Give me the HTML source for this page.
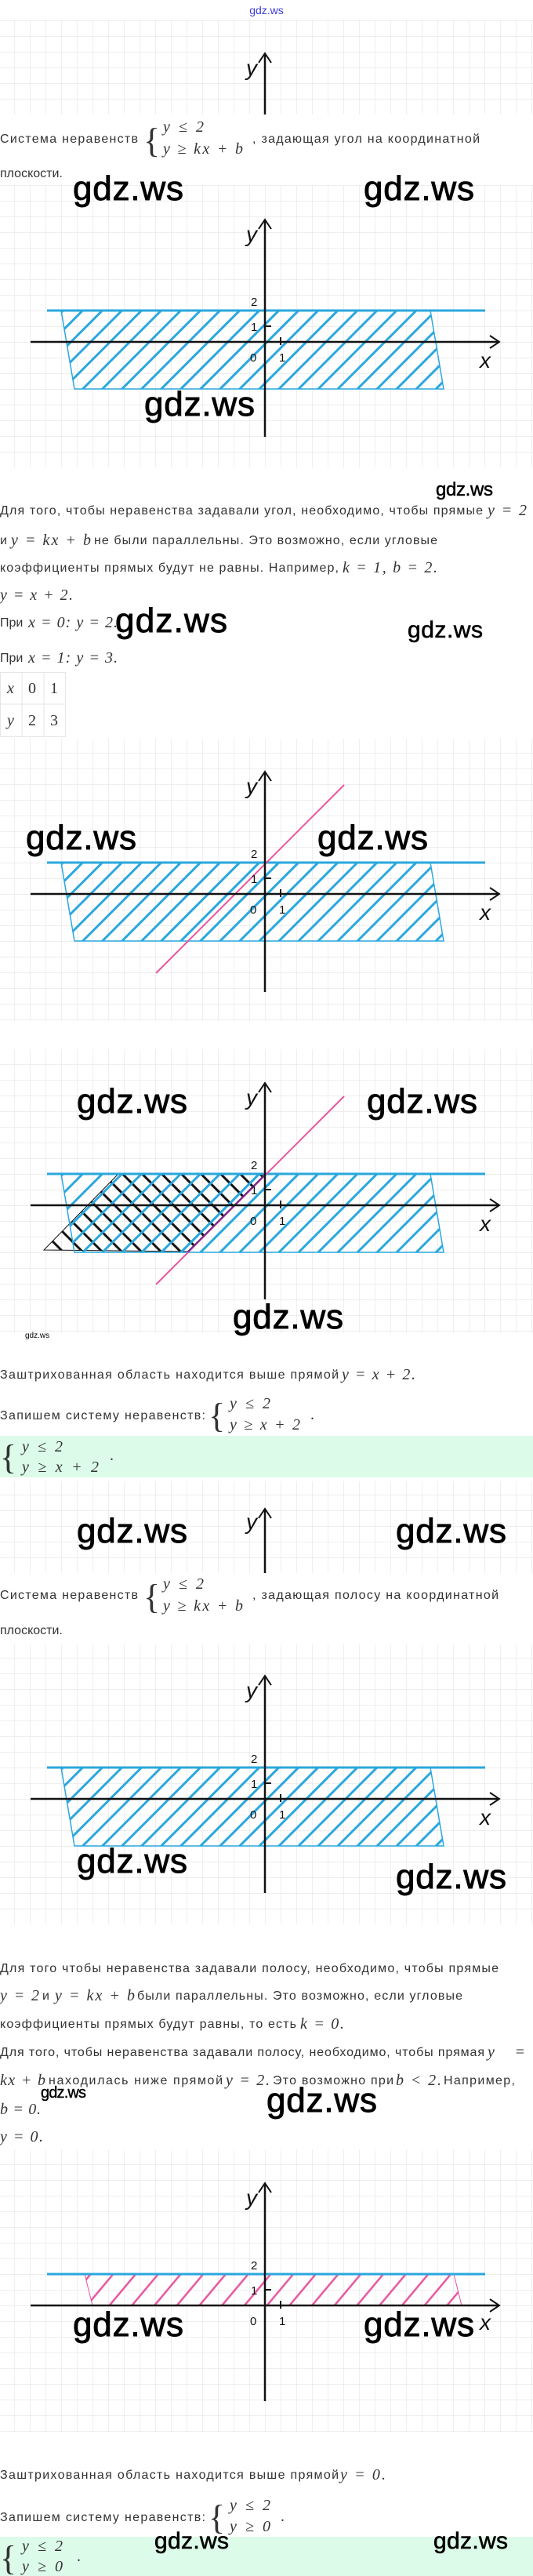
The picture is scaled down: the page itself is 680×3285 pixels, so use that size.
<!DOCTYPE html>
<html><head><meta charset="utf-8"><style>
html,body{margin:0;padding:0;background:#fff;}
svg{display:block;}
.t{font-family:"Liberation Sans",sans-serif;font-size:16px;fill:#333;}
.m{font-family:"Liberation Serif",serif;font-style:italic;font-size:20px;fill:#333;}
.n{font-family:"Liberation Serif",serif;font-size:20px;fill:#333;}
.w{font-family:"Liberation Sans",sans-serif;fill:#000;stroke:#000;stroke-width:0.9;}
.lb{font-family:"Liberation Sans",sans-serif;font-size:15px;fill:#111;}
.ax{font-family:"Liberation Sans",sans-serif;font-style:italic;font-size:28px;fill:#111;}
.br{font-family:"Liberation Serif",serif;font-size:44px;fill:#333;}
</style></head><body>
<svg width="680" height="3285" viewBox="0 0 680 3285" xmlns="http://www.w3.org/2000/svg">
<defs>
<pattern id="grid" width="20" height="20" patternUnits="userSpaceOnUse"><path d="M0 0H20M0 0V20" stroke="#e4e4e4" stroke-width="1.2" fill="none"/></pattern>
<pattern id="hb" width="17.7" height="17.7" patternUnits="userSpaceOnUse" patternTransform="rotate(45)"><line x1="2" y1="0" x2="2" y2="17.7" stroke="#2aa7de" stroke-width="3"/></pattern>
<pattern id="hk" width="17.7" height="17.7" patternUnits="userSpaceOnUse" patternTransform="rotate(-45)"><line x1="6" y1="0" x2="6" y2="17.7" stroke="#111" stroke-width="3"/></pattern>
<pattern id="hp" width="22" height="22" patternUnits="userSpaceOnUse" patternTransform="rotate(40)"><line x1="2" y1="0" x2="2" y2="22" stroke="#e8559f" stroke-width="2.5"/></pattern>
</defs>

<text x="340" y="18" text-anchor="middle" font-family="Liberation Sans,sans-serif" font-size="14" fill="#3b3be0">gdz.ws</text>

<!-- Graph 1 partial -->
<g transform="translate(338,146)">
<rect x="-338" y="-121" width="680" height="121" fill="url(#grid)"/>
<line x1="0" y1="-78" x2="0" y2="0" stroke="#111" stroke-width="2.5"/>
<polyline points="-8,-66 0,-78 8,-66" fill="none" stroke="#111" stroke-width="2"/>
<text class="ax" x="-24" y="-50">y</text>
</g>

<text class="t" x="0" y="182" textLength="176">Система неравенств</text>
<text class="br" x="183" y="194">{</text>
<text class="m" x="208" y="168" textLength="52">y ≤ 2</text>
<text class="m" x="208" y="196" textLength="102">y ≥ kx + b</text>
<text class="t" x="322" y="182" textLength="290">, задающая угол на координатной</text>
<text class="t" x="0" y="226">плоскости.</text>

<!-- Graph 2 -->
<g transform="translate(338,436)">
<rect x="-338" y="-200" width="680" height="360" fill="url(#grid)"/>
<polygon points="-260,-40 211,-40 228,60 -243,60" fill="url(#hb)" stroke="#2aa7de" stroke-width="1.5"/>
<line x1="-278" y1="-40" x2="281" y2="-40" stroke="#2aa7de" stroke-width="3"/>
<line x1="0" y1="-156" x2="0" y2="121" stroke="#111" stroke-width="2.5"/>
<polyline points="-8,-144 0,-156 8,-144" fill="none" stroke="#111" stroke-width="2"/>
<line x1="-299" y1="0" x2="299" y2="0" stroke="#111" stroke-width="2.5"/>
<polyline points="287,-8 299,0 287,8" fill="none" stroke="#111" stroke-width="2"/>
<line x1="0" y1="-20" x2="8" y2="-20" stroke="#111" stroke-width="2"/><line x1="20" y1="-6" x2="20" y2="4" stroke="#111" stroke-width="2"/>
<text class="lb" x="-18" y="-46">2</text><text class="lb" x="-18" y="-14">1</text><text class="lb" x="-19" y="25">0</text><text class="lb" x="18" y="25">1</text>
<text class="ax" x="274" y="33">x</text><text class="ax" x="-24" y="-128">y</text>
</g>

<text class="w" x="93" y="255" font-size="44" textLength="141">gdz.ws</text>
<text class="w" x="464" y="255" font-size="44" textLength="141">gdz.ws</text>
<text class="w" x="184" y="530" font-size="44" textLength="141">gdz.ws</text>

<text class="w" x="556" y="632" font-size="24" textLength="73" style="stroke-width:0.5">gdz.ws</text>
<text class="t" x="0" y="656" textLength="616">Для того, чтобы неравенства задавали угол, необходимо, чтобы прямые</text>
<text class="m" x="622" y="657" textLength="50">y = 2</text>
<text class="t" x="0" y="694">и</text><text class="m" x="14" y="695" textLength="102">y = kx + b</text>
<text class="t" x="120" y="694" textLength="438">не были параллельны. Это возможно, если угловые</text>
<text class="t" x="0" y="729" textLength="432">коэффициенты прямых будут не равны. Например,</text>
<text class="m" x="437" y="730" textLength="121">k = 1,  b = 2.</text>
<text class="m" x="0" y="765" textLength="93">y = x + 2.</text>
<text class="t" x="0" y="799">При</text><text class="m" x="36" y="800" textLength="114">x = 0: y = 2.</text>
<text class="w" x="147" y="806" font-size="44" textLength="143">gdz.ws</text>
<text class="w" x="520" y="813" font-size="30" textLength="96" style="stroke-width:0.6">gdz.ws</text>
<text class="t" x="0" y="844">При</text><text class="m" x="36" y="845" textLength="114">x = 1: y = 3.</text>

<g stroke="#e6e6e6" stroke-width="1" fill="none">
<rect x="0.5" y="857.5" width="83" height="82"/><line x1="28" y1="857" x2="28" y2="940"/><line x1="56" y1="857" x2="56" y2="940"/><line x1="0" y1="898" x2="84" y2="898"/>
</g>
<text class="m" x="9" y="884">x</text><text class="n" x="36" y="884">0</text><text class="n" x="64" y="884">1</text>
<text class="m" x="9" y="925">y</text><text class="n" x="36" y="925">2</text><text class="n" x="64" y="925">3</text>

<!-- Graph 3 -->
<g transform="translate(338,1140)">
<rect x="-338" y="-198" width="680" height="360" fill="url(#grid)"/>
<polygon points="-260,-40 211,-40 228,60 -243,60" fill="url(#hb)" stroke="#2aa7de" stroke-width="1.5"/>
<line x1="-278" y1="-40" x2="281" y2="-40" stroke="#2aa7de" stroke-width="3"/>
<line x1="-139" y1="101" x2="101" y2="-139" stroke="#e8559f" stroke-width="2"/>
<line x1="0" y1="-156" x2="0" y2="125" stroke="#111" stroke-width="2.5"/>
<polyline points="-8,-144 0,-156 8,-144" fill="none" stroke="#111" stroke-width="2"/>
<line x1="-299" y1="0" x2="299" y2="0" stroke="#111" stroke-width="2.5"/>
<polyline points="287,-8 299,0 287,8" fill="none" stroke="#111" stroke-width="2"/>
<line x1="0" y1="-20" x2="8" y2="-20" stroke="#111" stroke-width="2"/><line x1="20" y1="-6" x2="20" y2="4" stroke="#111" stroke-width="2"/>
<text class="lb" x="-18" y="-46">2</text><text class="lb" x="-18" y="-14">1</text><text class="lb" x="-19" y="25">0</text><text class="lb" x="18" y="25">1</text>
<text class="ax" x="274" y="33">x</text><text class="ax" x="-24" y="-128">y</text>
</g>
<text class="w" x="33" y="1083" font-size="44" textLength="141">gdz.ws</text>
<text class="w" x="405" y="1083" font-size="44" textLength="141">gdz.ws</text>

<!-- Graph 4 -->
<g transform="translate(338,1537)">
<rect x="-338" y="-199" width="680" height="362" fill="url(#grid)"/>
<polygon points="-188,-39 0,-39 -98,59 -282,57" fill="url(#hk)" stroke="#111" stroke-width="1"/>
<polygon points="-260,-40 211,-40 228,60 -243,60" fill="url(#hb)" stroke="#2aa7de" stroke-width="1.5"/>
<line x1="-278" y1="-40" x2="281" y2="-40" stroke="#2aa7de" stroke-width="3"/>
<line x1="-139" y1="101" x2="101" y2="-139" stroke="#e8559f" stroke-width="2"/>
<line x1="-98" y1="59" x2="0" y2="-39" stroke="#6a2a8a" stroke-width="2"/>
<line x1="0" y1="-156" x2="0" y2="120" stroke="#111" stroke-width="2.5"/>
<polyline points="-8,-144 0,-156 8,-144" fill="none" stroke="#111" stroke-width="2"/>
<line x1="-299" y1="0" x2="299" y2="0" stroke="#111" stroke-width="2.5"/>
<polyline points="287,-8 299,0 287,8" fill="none" stroke="#111" stroke-width="2"/>
<line x1="0" y1="-20" x2="8" y2="-20" stroke="#111" stroke-width="2"/><line x1="20" y1="-6" x2="20" y2="4" stroke="#111" stroke-width="2"/>
<text class="lb" x="-18" y="-46">2</text><text class="lb" x="-18" y="-14">1</text><text class="lb" x="-19" y="25">0</text><text class="lb" x="18" y="25">1</text>
<text class="ax" x="274" y="33">x</text><text class="ax" x="-24" y="-128">y</text>
</g>
<text class="w" x="98" y="1419" font-size="44" textLength="141">gdz.ws</text>
<text class="w" x="468" y="1419" font-size="44" textLength="141">gdz.ws</text>
<text class="w" x="297" y="1694" font-size="44" textLength="141">gdz.ws</text>
<text x="32" y="1706" font-size="10" font-family="Liberation Sans,sans-serif" fill="#000">gdz.ws</text>

<text class="t" x="0" y="1758" textLength="432">Заштрихованная область находится выше прямой</text>
<text class="m" x="436" y="1759" textLength="94">y = x + 2.</text>
<text class="t" x="0" y="1810" textLength="262">Запишем систему неравенств:</text>
<text class="br" x="266" y="1820">{</text>
<text class="m" x="293" y="1796" textLength="52">y ≤ 2</text><text class="m" x="293" y="1823" textLength="90">y ≥ x + 2</text><text class="n" x="396" y="1810">.</text>
<rect x="0" y="1831" width="680" height="53" fill="#dcfbe8"/>
<text class="br" x="0" y="1873">{</text>
<text class="m" x="28" y="1851" textLength="52">y ≤ 2</text><text class="m" x="28" y="1877" textLength="98">y ≥ x + 2</text><text class="n" x="140" y="1862">.</text>

<!-- Graph 5 partial -->
<g transform="translate(338,2006)">
<rect x="-338" y="-117" width="680" height="117" fill="url(#grid)"/>
<line x1="0" y1="-82" x2="0" y2="0" stroke="#111" stroke-width="2.5"/>
<polyline points="-8,-70 0,-82 8,-70" fill="none" stroke="#111" stroke-width="2"/>
<text class="ax" x="-24" y="-56">y</text>
</g>
<text class="w" x="98" y="1967" font-size="44" textLength="141">gdz.ws</text>
<text class="w" x="505" y="1967" font-size="44" textLength="141">gdz.ws</text>

<text class="t" x="0" y="2039" textLength="176">Система неравенств</text>
<text class="br" x="183" y="2051">{</text>
<text class="m" x="208" y="2026" textLength="52">y ≤ 2</text>
<text class="m" x="208" y="2054" textLength="102">y ≥ kx + b</text>
<text class="t" x="322" y="2039" textLength="314">, задающая полосу на координатной</text>
<text class="t" x="0" y="2084">плоскости.</text>

<!-- Graph 6 -->
<g transform="translate(338,2294)">
<rect x="-338" y="-197" width="680" height="357" fill="url(#grid)"/>
<polygon points="-260,-40 211,-40 228,60 -243,60" fill="url(#hb)" stroke="#2aa7de" stroke-width="1.5"/>
<line x1="-278" y1="-40" x2="281" y2="-40" stroke="#2aa7de" stroke-width="3"/>
<line x1="0" y1="-157" x2="0" y2="120" stroke="#111" stroke-width="2.5"/>
<polyline points="-8,-145 0,-157 8,-145" fill="none" stroke="#111" stroke-width="2"/>
<line x1="-299" y1="0" x2="299" y2="0" stroke="#111" stroke-width="2.5"/>
<polyline points="287,-8 299,0 287,8" fill="none" stroke="#111" stroke-width="2"/>
<line x1="0" y1="-20" x2="8" y2="-20" stroke="#111" stroke-width="2"/><line x1="20" y1="-6" x2="20" y2="4" stroke="#111" stroke-width="2"/>
<text class="lb" x="-18" y="-46">2</text><text class="lb" x="-18" y="-14">1</text><text class="lb" x="-19" y="25">0</text><text class="lb" x="18" y="25">1</text>
<text class="ax" x="274" y="33">x</text><text class="ax" x="-24" y="-129">y</text>
</g>
<text class="w" x="98" y="2388" font-size="44" textLength="141">gdz.ws</text>
<text class="w" x="505" y="2408" font-size="44" textLength="141">gdz.ws</text>

<text class="t" x="0" y="2515" textLength="636">Для того чтобы неравенства задавали полосу, необходимо, чтобы прямые</text>
<text class="m" x="0" y="2551" textLength="50">y = 2</text><text class="t" x="54" y="2550">и</text><text class="m" x="70" y="2551" textLength="102">y = kx + b</text>
<text class="t" x="175" y="2550" textLength="415">были параллельны. Это возможно, если угловые</text>
<text class="t" x="0" y="2586" textLength="378">коэффициенты прямых будут равны, то есть</text>
<text class="m" x="383" y="2587" textLength="56">k = 0.</text>
<text class="t" x="0" y="2622" textLength="618">Для того, чтобы неравенства задавали полосу, необходимо, чтобы прямая</text>
<text class="m" x="622" y="2623" textLength="48">y =</text>
<text class="m" x="0" y="2659" textLength="58">kx + b</text>
<text class="t" x="62" y="2658" textLength="222">находилась ниже прямой</text>
<text class="m" x="288" y="2659" textLength="56">y = 2.</text>
<text class="t" x="348" y="2658" textLength="154">Это возможно при</text>
<text class="m" x="505" y="2659" textLength="58">b &lt; 2.</text>
<text class="t" x="566" y="2658" textLength="91">Например,</text>
<text class="w" x="52" y="2675" font-size="20" textLength="58" style="stroke-width:0.4">gdz.ws</text>
<text class="m" x="0" y="2696" textLength="52">b = 0.</text>
<text class="w" x="340" y="2693" font-size="44" textLength="141">gdz.ws</text>
<text class="m" x="0" y="2731" textLength="55">y = 0.</text>

<!-- Graph 7 -->
<g transform="translate(338,2940)">
<rect x="-338" y="-199" width="680" height="360" fill="url(#grid)"/>
<polygon points="-230,-40 241,-40 251,0 -220,0" fill="url(#hp)" stroke="#e8559f" stroke-width="1"/>
<line x1="-278" y1="-40" x2="281" y2="-40" stroke="#2aa7de" stroke-width="3"/>
<line x1="0" y1="-156" x2="0" y2="122" stroke="#111" stroke-width="2.5"/>
<polyline points="-8,-144 0,-156 8,-144" fill="none" stroke="#111" stroke-width="2"/>
<line x1="-299" y1="0" x2="299" y2="0" stroke="#111" stroke-width="2.5"/>
<polyline points="287,-8 299,0 287,8" fill="none" stroke="#111" stroke-width="2"/>
<line x1="0" y1="-20" x2="8" y2="-20" stroke="#111" stroke-width="2"/><line x1="20" y1="-6" x2="20" y2="4" stroke="#111" stroke-width="2"/>
<text class="lb" x="-18" y="-46">2</text><text class="lb" x="-18" y="-14">1</text><text class="lb" x="-19" y="25">0</text><text class="lb" x="18" y="25">1</text>
<text class="ax" x="274" y="31" font-size="22">x</text><text class="ax" x="-24" y="-128">y</text>
</g>
<text class="w" x="93" y="2979" font-size="44" textLength="141">gdz.ws</text>
<text class="w" x="464" y="2979" font-size="44" textLength="141">gdz.ws</text>

<text class="t" x="0" y="3161" textLength="432">Заштрихованная область находится выше прямой</text>
<text class="m" x="434" y="3162" textLength="58">y = 0.</text>
<text class="t" x="0" y="3215" textLength="262">Запишем систему неравенств:</text>
<text class="br" x="266" y="3225">{</text>
<text class="m" x="293" y="3201" textLength="52">y ≤ 2</text><text class="m" x="293" y="3228" textLength="52">y ≥ 0</text><text class="n" x="358" y="3215">.</text>
<rect x="0" y="3235" width="680" height="50" fill="#dcfbe8"/>
<text class="br" x="0" y="3277">{</text>
<text class="m" x="28" y="3253" textLength="52">y ≤ 2</text><text class="m" x="28" y="3279" textLength="52">y ≥ 0</text><text class="n" x="98" y="3266">.</text>
<text class="w" x="197" y="3250" font-size="30" textLength="95" style="stroke-width:0.6">gdz.ws</text>
<text class="w" x="553" y="3250" font-size="30" textLength="95" style="stroke-width:0.6">gdz.ws</text>
</svg>
</body></html>
